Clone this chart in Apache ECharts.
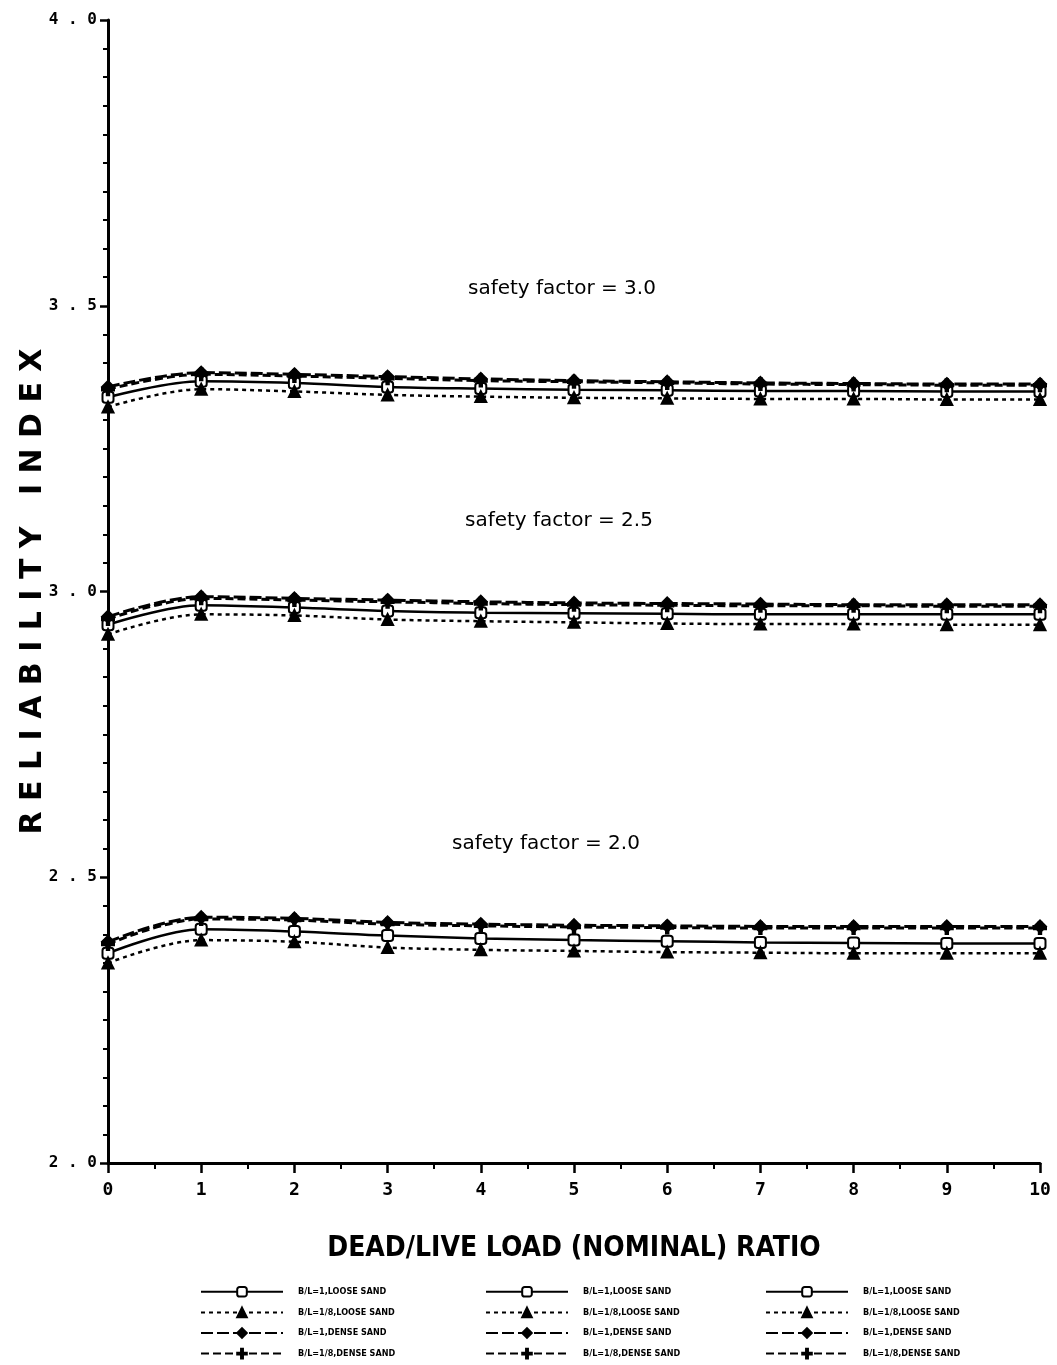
<!DOCTYPE html>
<html>
<head>
<meta charset="utf-8">
<script src="https://cdn.jsdelivr.net/npm/echarts@6/dist/echarts.min.js"></script>
<style>
html,body{margin:0;padding:0;background:#fff;}
#c{width:1057px;height:1365px;}
</style>
</head>
<body>
<div id="c"></div>
<script>
// ---- data ----
var xValues = [0, 1, 2, 3, 4, 5, 6, 7, 8, 9, 10];
var yTicks = [2.0, 2.5, 3.0, 3.5, 4.0];
var legendLabels = ['B/L=1,LOOSE SAND', 'B/L=1/8,LOOSE SAND', 'B/L=1,DENSE SAND', 'B/L=1/8,DENSE SAND'];
var safetyFactors = ['3.0', '2.5', '2.0'];

// safety factor = 3.0
var sf30_loose1  = [3.340, 3.368, 3.365, 3.358, 3.355, 3.353, 3.352, 3.351, 3.351, 3.350, 3.350];
var sf30_loose8  = [3.323, 3.354, 3.350, 3.344, 3.341, 3.339, 3.338, 3.337, 3.337, 3.336, 3.336];
var sf30_dense1  = [3.358, 3.383, 3.380, 3.376, 3.372, 3.369, 3.367, 3.365, 3.364, 3.363, 3.363];
var sf30_dense8  = [3.354, 3.380, 3.377, 3.373, 3.369, 3.367, 3.365, 3.363, 3.362, 3.361, 3.361];
// safety factor = 2.5
var sf25_loose1  = [2.942, 2.976, 2.972, 2.966, 2.963, 2.962, 2.961, 2.960, 2.960, 2.960, 2.960];
var sf25_loose8  = [2.925, 2.960, 2.958, 2.951, 2.948, 2.946, 2.944, 2.943, 2.943, 2.942, 2.942];
var sf25_dense1  = [2.956, 2.991, 2.988, 2.985, 2.982, 2.980, 2.979, 2.978, 2.977, 2.977, 2.977];
var sf25_dense8  = [2.952, 2.988, 2.985, 2.982, 2.979, 2.977, 2.976, 2.975, 2.975, 2.974, 2.974];
// safety factor = 2.0
var sf20_loose1  = [2.367, 2.409, 2.405, 2.398, 2.393, 2.390, 2.388, 2.386, 2.385, 2.384, 2.384];
var sf20_loose8  = [2.350, 2.390, 2.387, 2.377, 2.373, 2.371, 2.369, 2.368, 2.367, 2.367, 2.367];
var sf20_dense1  = [2.387, 2.430, 2.428, 2.421, 2.418, 2.416, 2.415, 2.414, 2.414, 2.414, 2.414];
var sf20_dense8  = [2.383, 2.427, 2.425, 2.418, 2.415, 2.413, 2.412, 2.411, 2.411, 2.411, 2.411];

var groups = [
  [sf30_loose1, sf30_loose8, sf30_dense1, sf30_dense8],
  [sf25_loose1, sf25_loose8, sf25_dense1, sf25_dense8],
  [sf20_loose1, sf20_loose8, sf20_dense1, sf20_dense8]
];

// ---- styles ----
var plusPath = 'path://M4,0H6V4H10V6H6V10H4V6H0V4H4Z';
var styles = [
  {symbol: 'emptyRoundRect', symbolSize: 11, line: {type: 'solid', width: 2.5}},
  {symbol: 'triangle', symbolSize: 11, line: {type: [4, 4], width: 2.5}},
  {symbol: 'diamond', symbolSize: 12, line: {type: [12, 4], width: 3}},
  {symbol: plusPath, symbolSize: 12, line: {type: [8, 4], width: 3}}
];

var series = [];
var legends = [];
var legendLeft = [200, 485, 765];
groups.forEach(function (g, gi) {
  var names = [];
  g.forEach(function (arr, si) {
    var name = 'SF' + safetyFactors[gi] + '|' + legendLabels[si];
    names.push(name);
    series.push({
      name: name,
      type: 'line',
      smooth: 0.35,
      data: xValues.map(function (x, i) { return [x, arr[i]]; }),
      symbol: styles[si].symbol,
      symbolSize: styles[si].symbolSize,
      showAllSymbol: true,
      itemStyle: {color: '#000', borderColor: '#000', borderWidth: 2},
      lineStyle: {color: '#000', width: styles[si].line.width, type: styles[si].line.type},
      z: 3 + si
    });
  });
  legends.push({
    data: names,
    orient: 'vertical',
    left: legendLeft[gi],
    top: 1286,
    height: 80,
    padding: 0,
    itemWidth: 82,
    itemHeight: 12,
    itemGap: 9,
    selectedMode: false,
    formatter: function (n) { return n.split('|')[1]; },
    textStyle: {fontSize: 9, fontWeight: 'bold', color: '#000', fontFamily: 'DejaVu Sans Condensed, Liberation Sans Narrow, sans-serif', padding: [0, 0, 0, 10]}
  });
});

var chart = echarts.init(document.getElementById('c'), null, {renderer: 'canvas'});
chart.setOption({
  backgroundColor: '#fff',
  animation: false,
  grid: {left: 108, right: 17, top: 20, bottom: 202, containLabel: false, outerBoundsMode: 'none'},
  legend: legends,
  xAxis: {
    type: 'value', min: 0, max: 10, interval: 1,
    name: 'DEAD/LIVE LOAD (NOMINAL) RATIO',
    nameLocation: 'middle', nameGap: 72,
    nameTextStyle: {fontSize: 28, fontWeight: 'bold', color: '#000', fontFamily: 'Liberation Sans Narrow, DejaVu Sans Condensed, sans-serif'},
    axisLine: {lineStyle: {color: '#000', width: 3}},
    axisTick: {show: true, length: 10, lineStyle: {color: '#000', width: 2.5}},
    minorTick: {show: true, splitNumber: 2, length: 6, lineStyle: {color: '#000', width: 2}},
    splitLine: {show: false},
    axisLabel: {color: '#000', fontSize: 18, fontWeight: 'bold', margin: 18, fontFamily: 'DejaVu Sans Mono, monospace'}
  },
  yAxis: {
    type: 'value', min: yTicks[0], max: yTicks[yTicks.length - 1], interval: 0.5,
    name: 'R E L I A B I L I T Y   I N D E X',
    nameLocation: 'middle', nameGap: 60, nameMoveOverlap: false,
    nameTextStyle: {fontSize: 30, fontWeight: 'bold', color: '#000', fontFamily: 'DejaVu Sans, sans-serif'},
    axisLine: {show: true, lineStyle: {color: '#000', width: 3}},
    axisTick: {show: true, length: 8, lineStyle: {color: '#000', width: 2.5}},
    minorTick: {show: true, splitNumber: 10, length: 5, lineStyle: {color: '#000', width: 2}},
    splitLine: {show: false},
    axisLabel: {
      color: '#000', fontSize: 16, fontWeight: 'bold', margin: 11,
      fontFamily: 'DejaVu Sans Mono, monospace',
      formatter: function (v) { return v.toFixed(1).split('').join(' '); }
    }
  },
  graphic: [
    {type: 'text', left: 468, top: 279, style: {text: 'safety factor = 3.0', font: '20px "DejaVu Sans", sans-serif', fill: '#000'}},
    {type: 'text', left: 465, top: 511, style: {text: 'safety factor = 2.5', font: '20px "DejaVu Sans", sans-serif', fill: '#000'}},
    {type: 'text', left: 452, top: 834, style: {text: 'safety factor = 2.0', font: '20px "DejaVu Sans", sans-serif', fill: '#000'}}
  ],
  series: series
});
</script>
</body>
</html>
